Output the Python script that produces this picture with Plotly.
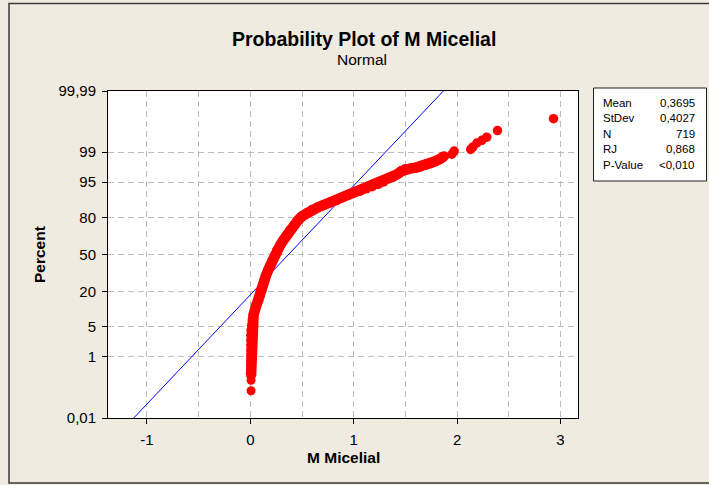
import plotly.graph_objects as go
from statistics import NormalDist

# ---------------- data ----------------
# lowest two isolated points
low_x = [0.007, 0.007]
low_pct = [0.097, 0.21]

# dense band of sorted data (x value, cumulative percent)
dense_x = [0.007, 0.007, 0.007, 0.007, 0.007, 0.007, 0.007, 0.007, 0.007,
           0.010, 0.015, 0.021, 0.031, 0.043, 0.055, 0.079, 0.094, 0.108,
           0.123, 0.137, 0.152, 0.172, 0.191, 0.213, 0.236, 0.258, 0.288,
           0.319, 0.350, 0.384, 0.423, 0.462, 0.500, 0.549, 0.597, 0.655,
           0.713, 0.772, 0.830, 0.888, 0.946, 1.004, 1.062, 1.120, 1.178,
           1.236, 1.288, 1.333, 1.381, 1.420, 1.462, 1.501, 1.556, 1.604,
           1.643, 1.691, 1.740, 1.788, 1.840, 1.875]
dense_pct = [0.30, 0.42, 0.59, 0.80, 1.09, 1.47, 1.94, 2.55, 3.30,
             4.24, 5.36, 6.72, 8.33, 10.2, 12.4, 14.9, 17.7, 20.8,
             24.2, 27.9, 31.8, 36.0, 40.3, 44.7, 49.3, 53.8, 58.3,
             62.7, 66.9, 70.9, 74.7, 78.2, 80.8, 82.9, 84.5, 85.9,
             87.1, 88.2, 89.1, 90.3, 91.3, 92.0, 92.6, 93.3, 93.9,
             94.5, 95.1, 95.75, 96.1, 96.6, 97.1, 97.4, 97.5, 97.6,
             97.7, 97.9, 98.07, 98.30, 98.54, 98.73]

# upper tail, separate points
tail_x = [1.950, 1.972, 2.132, 2.153, 2.192, 2.240, 2.287, 2.391, 2.933]
tail_pct = [98.87, 99.07, 99.16, 99.28, 99.44, 99.53, 99.62, 99.76, 99.90]

# summary statistics
stat_labels = ["Mean", "StDev", "N", "RJ", "P-Value"]
stat_values = ["0,3695", "0,4027", "719", "0,868", "<0,010"]
mean_val = 0.3695
stdev_val = 0.4027

# axes
y_tick_pct = [0.01, 1, 5, 20, 50, 80, 95, 99, 99.99]
y_tick_text = ["0,01", "1", "5", "20", "50", "80", "95", "99", "99,99"]
x_tick_vals = [-1, 0, 1, 2, 3]
x_tick_text = ["-1", "0", "1", "2", "3"]
x_grid_vals = [-1, -0.5, 0, 0.5, 1, 1.5, 2, 2.5, 3]

# ---------------- helpers ----------------
nd = NormalDist()


def zs(pcts):
    return [nd.inv_cdf(p / 100.0) for p in pcts]


W, H = 709, 485
L, R, T, B = 108, 131, 91, 67
PW, PH = W - L - R, H - T - B


def pxx(x):
    return (x - L) / PW


def pxy(y):
    return (H - B - y) / PH


FONT = "Liberation Sans, Arial, Helvetica, sans-serif"
RED = "#FF0000"
BLUE = "#0000FF"
GRID = "#BDBDBD"
BG = "#EFEBE1"

fig = go.Figure()

# fitted normal line
fit_p = [y_tick_pct[0], y_tick_pct[-1]]
fit_z = zs(fit_p)
fig.add_trace(go.Scatter(
    x=[mean_val + stdev_val * z for z in fit_z], y=fit_z,
    mode="lines", line=dict(color=BLUE, width=1), hoverinfo="skip",
    showlegend=False))

fig.add_trace(go.Scatter(
    x=dense_x, y=zs(dense_pct), mode="lines+markers",
    line=dict(color=RED, width=10.5), marker=dict(color=RED, size=10),
    showlegend=False))
fig.add_trace(go.Scatter(
    x=low_x, y=zs(low_pct), mode="markers",
    marker=dict(color=RED, size=9), showlegend=False))
fig.add_trace(go.Scatter(
    x=tail_x, y=zs(tail_pct), mode="markers",
    marker=dict(color=RED, size=9.5), showlegend=False))

yz = zs(y_tick_pct)

fig.update_layout(
    width=W, height=H,
    margin=dict(l=L, r=R, t=T, b=B, pad=0),
    paper_bgcolor=BG, plot_bgcolor="white",
    font=dict(family=FONT, size=15, color="black"),
    showlegend=False,
    xaxis=dict(
        range=[-1.377, 3.170], tickmode="array", tickvals=x_tick_vals,
        ticktext=x_tick_text, ticks="outside", ticklen=5, tickwidth=1,
        tickcolor="black", showline=True, linecolor="black", linewidth=1,
        mirror=True, showgrid=True, gridcolor=GRID, griddash="6px,4px",
        gridwidth=1, zeroline=False, ticklabelstandoff=3,
        minor=dict(tickmode="array", tickvals=x_grid_vals, showgrid=True,
                   gridcolor=GRID, griddash="6px,4px", gridwidth=1, ticks=""),
    ),
    yaxis=dict(
        range=[yz[0], yz[-1]], tickmode="array", tickvals=yz,
        ticktext=y_tick_text, ticks="outside", ticklen=5, tickwidth=1,
        tickcolor="black", showline=True, linecolor="black", linewidth=1,
        mirror=True, showgrid=True, gridcolor=GRID, griddash="6px,4px",
        gridwidth=1, zeroline=False, ticklabelstandoff=3,
    ),
)

shapes = [
    # outer frame of the graph window
    dict(type="rect", xref="paper", yref="paper",
         x0=pxx(9), x1=pxx(730), y0=pxy(483), y1=pxy(3.5),
         line=dict(color="#3A3A3A", width=1.5), fillcolor="rgba(0,0,0,0)",
         layer="below"),
    # statistics box
    dict(type="rect", xref="paper", yref="paper",
         x0=pxx(593.5), x1=pxx(706.5), y0=pxy(181), y1=pxy(88),
         line=dict(color="#202020", width=1), fillcolor="white"),
]

annotations = [
    dict(text="<b>Probability Plot of M Micelial</b>", x=pxx(364), y=pxy(39),
         xref="paper", yref="paper", showarrow=False, xanchor="center",
         yanchor="middle", font=dict(size=19.5, family=FONT)),
    dict(text="Normal", x=pxx(361.5), y=pxy(60), xref="paper", yref="paper",
         showarrow=False, xanchor="center", yanchor="middle",
         font=dict(size=15.5, family=FONT)),
    dict(text="<b>M Micelial</b>", x=pxx(343), y=pxy(457), xref="paper",
         yref="paper", showarrow=False, xanchor="center", yanchor="middle",
         font=dict(size=15.5, family=FONT)),
    dict(text="<b>Percent</b>", x=pxx(40), y=pxy(255), xref="paper",
         yref="paper", showarrow=False, xanchor="center", yanchor="middle",
         textangle=-90, font=dict(size=15.5, family=FONT)),
]

row_y = [102.5, 118, 133.5, 149, 164.5]
for lab, val, yy in zip(stat_labels, stat_values, row_y):
    annotations.append(dict(text=lab, x=pxx(601), y=pxy(yy), xref="paper",
                            yref="paper", showarrow=False, xanchor="left",
                            yanchor="middle", font=dict(size=11.5, family=FONT)))
    annotations.append(dict(text=val, x=pxx(697), y=pxy(yy), xref="paper",
                            yref="paper", showarrow=False, xanchor="right",
                            yanchor="middle", font=dict(size=11.5, family=FONT)))

fig.update_layout(shapes=shapes, annotations=annotations)

fig.write_html("out.html")
